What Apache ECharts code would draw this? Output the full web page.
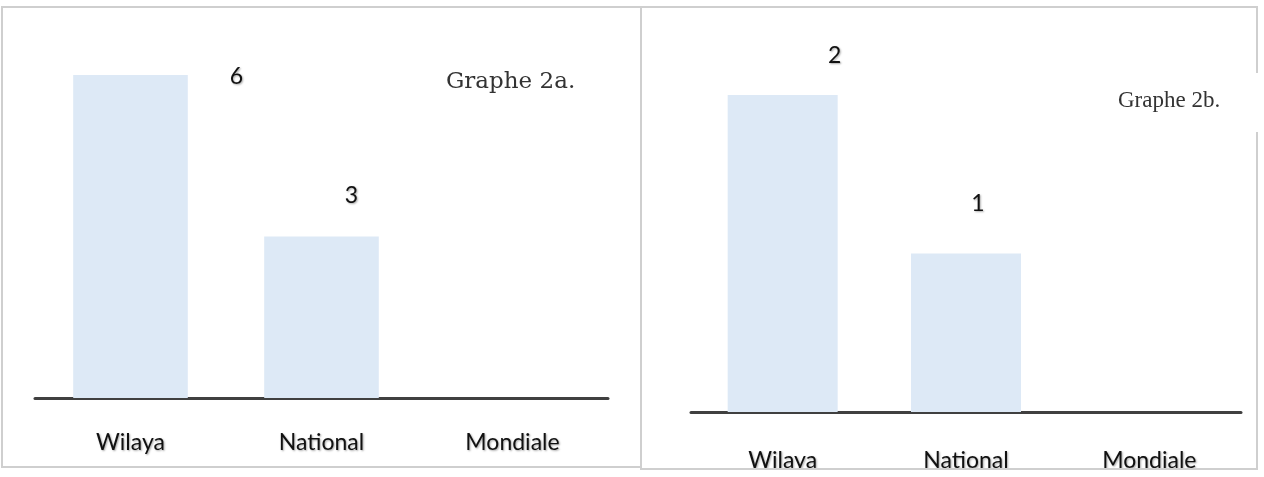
<!DOCTYPE html>
<html><head><meta charset="utf-8">
<script src="https://cdn.jsdelivr.net/npm/echarts@6/dist/echarts.min.js"></script>
<style>html,body{margin:0;padding:0;background:#fff}#c{width:1264px;height:477px}</style>
</head><body><div id="c"></div>
<script>
const categories = ['Wilaya', 'National', 'Mondiale'];
const valuesA = [6, 3, null];
const valuesB = [2, 1, null];
const titleA = 'Graphe 2a.';
const titleB = 'Graphe 2b.';

const labelOffsetA = [[106, 18], [30, -24], [0, 0]];
const labelOffsetB = [[52, -23], [12, -33], [0, 0]];

const barColor = '#dde9f6';
const labelFont = 'Lato, "Open Sans", sans-serif';
const shadow = {textShadowColor: 'rgba(0,0,0,0.35)', textShadowBlur: 2, textShadowOffsetX: 1, textShadowOffsetY: 1};

function mkData(vals, offs) {
  return vals.map((v, i) => ({value: v, label: {offset: offs[i]}}));
}
function xAx(idx, margin) {
  return {
    type: 'category', gridIndex: idx, data: categories,
    axisTick: {show: false},
    axisLine: {lineStyle: {color: '#404040', width: 3}},
    axisLabel: Object.assign({color: '#111', fontSize: 23, fontFamily: labelFont, margin: margin}, shadow)
  };
}
function yAx(idx, max) {
  return {type: 'value', gridIndex: idx, min: 0, max: max, show: false, splitLine: {show: false}};
}
function ser(idx, vals, offs) {
  return {
    type: 'bar', xAxisIndex: idx, yAxisIndex: idx, barWidth: '60%',
    itemStyle: {color: barColor},
    label: Object.assign({show: true, position: 'top', color: '#111', fontSize: 23, fontFamily: labelFont}, shadow),
    data: mkData(vals, offs), silent: true
  };
}

const chart = echarts.init(document.getElementById('c'), null, {renderer: 'canvas'});
chart.setOption({
  animation: false,
  backgroundColor: '#fff',
  grid: [
    {left: 35, right: 656, top: 75, bottom: 79},
    {left: 691, right: 23, top: 95, bottom: 65}
  ],
  xAxis: [xAx(0, 33), xAx(1, 37)],
  yAxis: [yAx(0, 6), yAx(1, 2)],
  series: [ser(0, valuesA, labelOffsetA), ser(1, valuesB, labelOffsetB)],
  graphic: [
    {type: 'rect', shape: {x: 2, y: 7, width: 639, height: 460}, style: {fill: 'none', stroke: '#cfcfcf', lineWidth: 2}, z: 100},
    {type: 'rect', shape: {x: 641, y: 7, width: 616, height: 462}, style: {fill: 'none', stroke: '#cfcfcf', lineWidth: 2}, z: 100},
    {type: 'rect', shape: {x: 642, y: 470, width: 622, height: 7}, style: {fill: '#fff'}, z: 99},
    {type: 'rect', shape: {x: 1250, y: 73, width: 14, height: 59}, style: {fill: '#fff'}, z: 101},
    {type: 'text', x: 446, y: 82, style: {text: titleA, font: '23px "DejaVu Serif", serif', fill: '#333', verticalAlign: 'middle'}, z: 102},
    {type: 'text', x: 1118, y: 101, style: {text: titleB, font: '23px "Liberation Serif", serif', fill: '#333', verticalAlign: 'middle'}, z: 102}
  ]
});
</script></body></html>
